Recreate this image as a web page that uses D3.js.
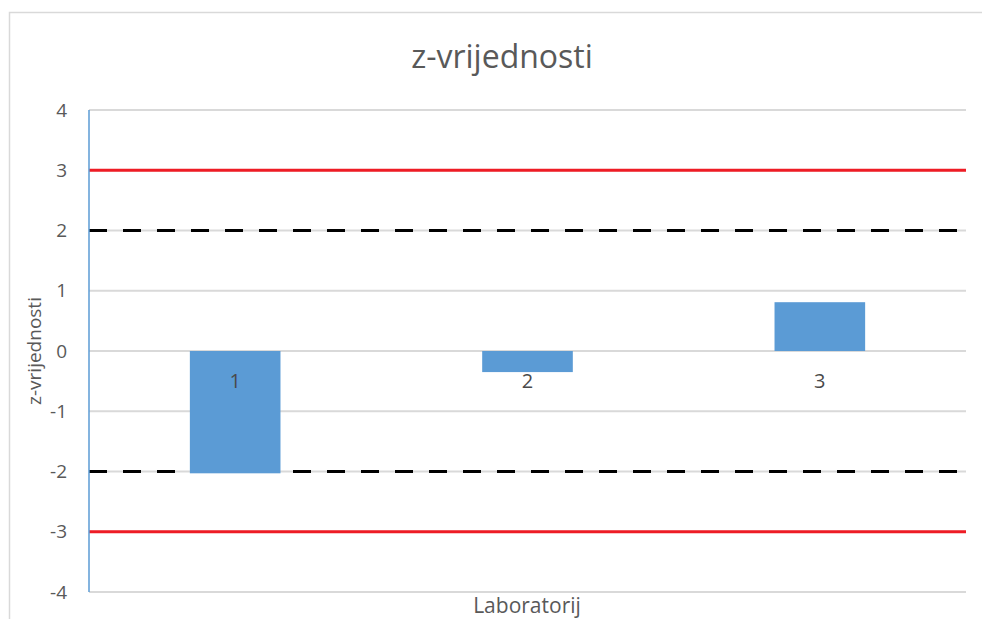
<!DOCTYPE html>
<html>
<head>
<meta charset="utf-8">
<script src="https://cdn.jsdelivr.net/npm/d3@7"></script>
<style>
  body { margin: 0; background: #fff; }
  text { font-family: "Open Sans", "Liberation Sans", sans-serif; }
</style>
</head>
<body>
<svg id="chart" width="982" height="619"></svg>
<script>
// data
var labs = ["1", "2", "3"];
var zScores = [-2.03, -0.35, 0.81];
var yTicks = [-4, -3, -2, -1, 0, 1, 2, 3, 4];
var actionLimits = [3, -3];   // red lines
var warningLimits = [2, -2];  // dashed lines

var svg = d3.select("#chart");
var m = { left: 89, right: 966, top: 110, bottom: 592 };

// chart area border (cut off at right and bottom)
svg.append("path")
  .attr("d", "M9.5,619 V12.5 H982")
  .attr("fill", "none")
  .attr("stroke", "#d9d9d9")
  .attr("stroke-width", 1.5);

var x = d3.scaleBand()
  .domain(labs)
  .range([m.left, m.right])
  .paddingInner(0.69)
  .paddingOuter(0.345);

var y = d3.scaleLinear()
  .domain([-4, 4])
  .range([m.bottom, m.top]);

// gridlines
svg.append("g")
  .selectAll("line")
  .data(yTicks)
  .join("line")
  .attr("x1", m.left)
  .attr("x2", m.right)
  .attr("y1", d => y(d))
  .attr("y2", d => y(d))
  .attr("stroke", "#d9d9d9")
  .attr("stroke-width", 2);

// y tick labels (plain hyphen like the original)
var yAxis = svg.append("g")
  .attr("transform", "translate(" + (m.left - 22) + ",0)")
  .call(d3.axisLeft(y).tickValues(yTicks).tickSize(0).tickPadding(0)
    .tickFormat(d => String(d)));
yAxis.select(".domain").remove();
yAxis.selectAll("text")
  .attr("fill", "#595959")
  .style("font-size", "19px");

// limit lines (behind the bars)
svg.append("g")
  .selectAll("line")
  .data(actionLimits)
  .join("line")
  .attr("x1", m.left)
  .attr("x2", m.right)
  .attr("y1", d => y(d))
  .attr("y2", d => y(d))
  .attr("stroke", "#ee1c25")
  .attr("stroke-width", 3);

svg.append("g")
  .selectAll("line")
  .data(warningLimits)
  .join("line")
  .attr("x1", m.left)
  .attr("x2", m.right)
  .attr("y1", d => y(d))
  .attr("y2", d => y(d))
  .attr("stroke", "#000")
  .attr("stroke-width", 3)
  .attr("stroke-dasharray", "18,16");

// bars
svg.append("g")
  .selectAll("rect")
  .data(zScores)
  .join("rect")
  .attr("x", (d, i) => x(labs[i]))
  .attr("width", x.bandwidth())
  .attr("y", d => y(Math.max(0, d)))
  .attr("height", d => Math.abs(y(d) - y(0)))
  .attr("fill", "#5b9bd5");

// category labels next to the zero line
svg.append("g")
  .selectAll("text")
  .data(labs)
  .join("text")
  .attr("x", d => x(d) + x.bandwidth() / 2)
  .attr("y", y(0) + 37)
  .attr("text-anchor", "middle")
  .attr("fill", "#4a4a4a")
  .style("font-size", "20px")
  .text(d => d);

// vertical axis line
svg.append("line")
  .attr("x1", m.left)
  .attr("x2", m.left)
  .attr("y1", m.top)
  .attr("y2", m.bottom)
  .attr("stroke", "#5b9bd5")
  .attr("stroke-width", 1.5);

// titles
svg.append("text")
  .attr("x", 502)
  .attr("y", 68)
  .attr("text-anchor", "middle")
  .attr("fill", "#595959")
  .style("font-size", "32px")
  .text("z-vrijednosti");

svg.append("text")
  .attr("transform", "translate(41," + y(0) + ") rotate(-90)")
  .attr("text-anchor", "middle")
  .attr("fill", "#595959")
  .style("font-size", "19px")
  .text("z-vrijednosti");

svg.append("text")
  .attr("x", 527)
  .attr("y", 613)
  .attr("text-anchor", "middle")
  .attr("fill", "#595959")
  .style("font-size", "21px")
  .text("Laboratorij");
</script>
</body>
</html>
